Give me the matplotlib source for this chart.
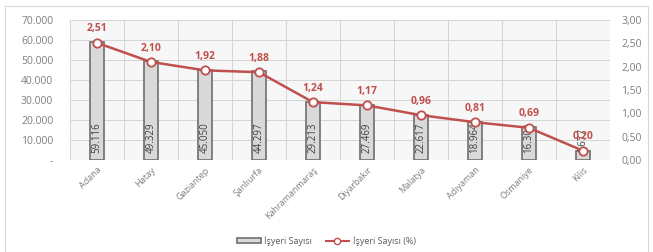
import numpy as np
import matplotlib
matplotlib.use("Agg")
import matplotlib.pyplot as plt
from matplotlib.patches import Rectangle
from matplotlib.lines import Line2D
from matplotlib.ticker import FuncFormatter, MultipleLocator

plt.rcParams["font.family"] = ["Open Sans", "DejaVu Sans"]

cities = ["Adana", "Hatay", "Gaziantep", "Şanlıurfa", "Kahramanmaraş",
          "Diyarbakır", "Malatya", "Adıyaman", "Osmaniye", "Kilis"]
workplaces = [59116, 49329, 45050, 44297, 29213, 27469, 22617, 18964, 16304, 4677]
share_pct = [2.51, 2.10, 1.92, 1.88, 1.24, 1.17, 0.96, 0.81, 0.69, 0.20]

RED = "#c0504d"
GREY_TXT = "#7f7f7f"


def tr_thousands(v, _pos=None):
    if v == 0:
        return "-"
    return f"{int(v):,}".replace(",", ".")


fig = plt.figure(figsize=(6.53, 2.52), dpi=100)
fig.patches.append(Rectangle((0.008, 0.0), 0.985, 0.975, transform=fig.transFigure,
                             fill=False, edgecolor="#d9d9d9", lw=0.8))

ax = fig.add_axes([0.107, 0.365, 0.827, 0.556])
ax.set_facecolor("#f7f7f7")
x = np.arange(len(cities))

ax.bar(x, workplaces, width=0.26, color="#d9d9d9", edgecolor="#6f6f6f", lw=1.2, zorder=2)
for xi, v in zip(x, workplaces):
    ax.text(xi, 3300, tr_thousands(v), rotation=90, ha="center", va="bottom",
            fontsize=7, color="#404040", zorder=3)

ax.set_xlim(-0.5, len(cities) - 0.5)
ax.set_ylim(0, 70000)
ax.yaxis.set_major_locator(MultipleLocator(10000))
ax.yaxis.set_major_formatter(FuncFormatter(tr_thousands))
ax.set_xticks(x)
ax.set_xticklabels(cities, rotation=45, ha="right", rotation_mode="anchor",
                   fontsize=6.5, color=GREY_TXT)
ax.set_xticks(np.arange(len(cities) + 1) - 0.5, minor=True)
ax.grid(False)
ax.grid(axis="y", which="major", color="#d4d4d4", lw=0.7, zorder=0)
ax.grid(axis="x", which="minor", color="#d4d4d4", lw=0.7, zorder=0)
ax.tick_params(axis="both", which="both", length=0)
ax.tick_params(axis="y", labelsize=7.5, colors=GREY_TXT, pad=12)
ax.tick_params(axis="x", pad=4)
for s in ax.spines.values():
    s.set_visible(False)

ax2 = ax.twinx()
ax2.plot(x, share_pct, color=RED, lw=1.8, marker="o", ms=6, mfc="white",
         mec=RED, mew=1.3, zorder=4)
for xi, v in zip(x, share_pct):
    ax2.annotate(f"{v:.2f}".replace(".", ","), (xi, v), xytext=(0, 6),
                 textcoords="offset points", ha="center", va="bottom",
                 fontsize=7.5, color=RED, fontweight="bold")
ax2.set_ylim(0, 3.0)
ax2.yaxis.set_major_locator(MultipleLocator(0.5))
ax2.yaxis.set_major_formatter(FuncFormatter(lambda v, p: f"{v:.2f}".replace(".", ",")))
ax2.tick_params(axis="y", length=0, labelsize=7.5, colors=GREY_TXT, pad=8)
for s in ax2.spines.values():
    s.set_visible(False)

handles = [Rectangle((0, 0), 1, 1, facecolor="#d9d9d9", edgecolor="#6f6f6f", lw=1.2),
           Line2D([0], [0], color=RED, lw=1.5, marker="o", ms=4.5, mfc="white", mec=RED)]
fig.legend(handles, ["İşyeri Sayısı", "İşyeri Sayısı (%)"], loc="center",
           bbox_to_anchor=(0.5, 0.045), ncol=2, frameon=False, fontsize=6.5,
           labelcolor="#595959", handlelength=2.6, handleheight=0.5, columnspacing=1.5,
           handletextpad=0.4)

fig.savefig("out.png", dpi=100)
